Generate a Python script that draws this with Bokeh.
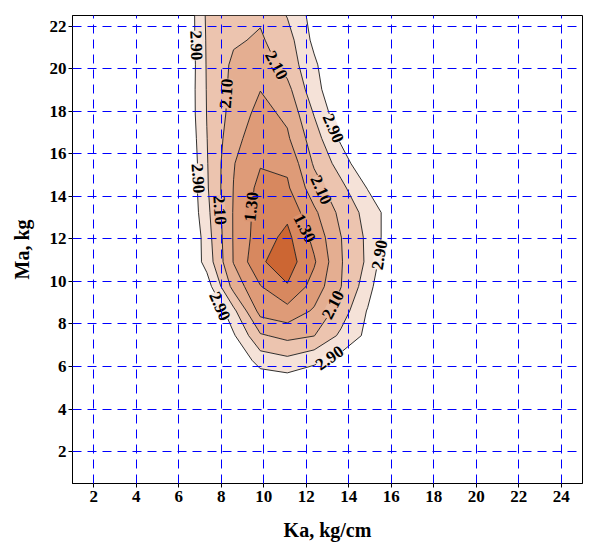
import numpy as np
from bokeh.plotting import figure
from bokeh.models import Range1d, FixedTicker, ColumnDataSource
from bokeh.core.properties import value
from bokeh.embed import file_html
from bokeh.resources import INLINE

# grid nodes of the surface (Ka, kg/cm and Ma, kg)
x_nodes = [6.05, 7.32, 8.58, 9.84, 11.11, 12.37, 13.63, 14.89, 16.16, 17.42]
y_nodes = [3.97, 5.13, 6.29, 7.45, 8.61, 9.76, 10.92, 12.08, 13.24, 14.39,
           15.55, 16.71, 17.87, 19.03, 20.18, 21.34, 22.50]

# surface values, one row per y node (bottom to top)
z_r00 = [4.00, 3.95, 3.85, 3.72, 3.70, 3.75, 3.85, 3.95, 4.00, 4.10]
z_r01 = [3.95, 3.80, 3.55, 3.25, 3.19, 3.30, 3.50, 3.70, 3.85, 4.00]
z_r02 = [3.90, 3.70, 3.30, 2.72, 2.60, 2.80, 3.05, 3.40, 3.70, 3.95]
z_r03 = [3.85, 3.55, 2.95, 2.15, 1.98, 2.09, 2.58, 3.00, 3.60, 3.90]
z_r04 = [3.80, 3.48, 2.60, 1.56, 1.44, 1.75, 2.29, 2.93, 3.50, 3.85]
z_r05 = [3.70, 3.10, 1.96, 1.32, 0.93, 1.46, 2.09, 2.71, 3.64, 3.95]
z_r06 = [3.51, 2.75, 1.68, 0.95, 0.70, 1.25, 2.07, 2.57, 3.44, 3.90]
z_r07 = [3.71, 2.68, 1.67, 1.08, 0.80, 1.42, 2.09, 2.58, 3.22, 3.65]
z_r08 = [3.55, 2.61, 1.67, 1.12, 0.99, 1.62, 2.21, 2.64, 3.16, 3.60]
z_r09 = [3.54, 2.55, 1.69, 1.18, 1.24, 1.92, 2.39, 2.92, 3.50, 3.80]
z_r10 = [3.60, 2.53, 1.72, 1.33, 1.38, 2.15, 2.67, 3.29, 3.70, 3.90]
z_r11 = [3.52, 2.51, 1.83, 1.45, 1.64, 2.31, 2.97, 3.40, 3.75, 3.95]
z_r12 = [3.45, 2.49, 1.94, 1.57, 1.78, 2.52, 3.19, 3.55, 3.85, 4.00]
z_r13 = [3.45, 2.48, 1.98, 1.71, 1.98, 2.76, 3.25, 3.60, 3.90, 4.05]
z_r14 = [3.49, 2.47, 2.02, 1.86, 2.26, 2.82, 3.40, 3.70, 4.00, 4.10]
z_r15 = [3.45, 2.46, 2.15, 2.05, 2.33, 3.00, 3.45, 3.75, 3.95, 4.15]
z_r16 = [3.46, 2.44, 2.30, 2.15, 2.52, 3.06, 3.50, 3.80, 4.00, 4.20]

levels = [0.5, 0.9, 1.3, 1.7, 2.1, 2.5, 2.9]
band_colors = ["#CC6633", "#D7885F", "#DE9B78", "#E4AE91", "#ECC4AF", "#F5E2D8"]

x_ticks = [2, 4, 6, 8, 10, 12, 14, 16, 18, 20, 22, 24]
y_ticks = [2, 4, 6, 8, 10, 12, 14, 16, 18, 20, 22]

# contour labels
lab290_x = [6.83, 6.91, 7.93, 13.10, 15.45, 13.27]
lab290_y = [21.09, 14.84, 8.83, 6.40, 11.25, 17.20]
lab290_a = [-88, -86, -66, 35, 80, -67]
lab210_x = [8.24, 10.59, 7.93, 12.70, 13.26]
lab210_y = [18.83, 20.16, 13.36, 14.30, 8.90]
lab210_a = [86, -62, -86, -66, 63]
lab130_x = [9.42, 11.92]
lab130_y = [13.51, 12.50]
lab130_a = [84, -63]

z = np.array([z_r00, z_r01, z_r02, z_r03, z_r04, z_r05, z_r06, z_r07, z_r08,
              z_r09, z_r10, z_r11, z_r12, z_r13, z_r14, z_r15, z_r16])

serif = "Liberation Serif"

p = figure(width=589, height=552, x_range=Range1d(1, 25), y_range=Range1d(0.5, 22.5),
           output_backend="svg", toolbar_location=None,
           min_border_left=72, min_border_right=7, min_border_top=15, min_border_bottom=69)
p.background_fill_color = "white"
p.border_fill_color = "white"
p.outline_line_color = "black"
p.outline_line_width = 1

p.contour(np.array(x_nodes), np.array(y_nodes), z, levels,
          fill_color=band_colors, line_color="#1a1a1a", line_width=0.9)

# grid on top of the filled contours
p.xgrid.ticker = FixedTicker(ticks=x_ticks)
p.ygrid.ticker = FixedTicker(ticks=y_ticks)
p.grid.grid_line_color = "#0000FF"
p.grid.grid_line_dash = "9 6"
p.grid.grid_line_width = 1
p.grid.level = "overlay"

def add_labels(xs, ys, angs, txt, bg):
    src = ColumnDataSource(dict(x=xs, y=ys, a=angs, t=[txt] * len(xs)))
    r = p.text(x="x", y="y", text="t", angle="a", angle_units="deg", source=src,
               text_font=value(serif), text_font_style="bold", text_font_size="17px",
               text_align="center", text_baseline="middle", text_color="black",
               background_fill_color=bg)
    r.level = "overlay"

add_labels(lab290_x, lab290_y, lab290_a, "2.90", "#F8EAE2")
add_labels(lab210_x, lab210_y, lab210_a, "2.10", "#E8B9A0")
add_labels(lab130_x, lab130_y, lab130_a, "1.30", "#DB9470")

# axes
for ax in (p.xaxis[0], p.yaxis[0]):
    ax.major_label_text_font = serif
    ax.major_label_text_font_style = "bold"
    ax.major_label_text_font_size = "17px"
    ax.major_label_text_color = "black"
    ax.axis_label_text_font = serif
    ax.axis_label_text_font_style = "bold"
    ax.axis_label_text_font_size = "20px"
    ax.axis_label_text_color = "black"
    ax.major_tick_out = 4
    ax.major_tick_in = 0
    ax.minor_tick_line_color = None
    ax.axis_line_color = "black"
    ax.major_tick_line_color = "black"

p.xaxis[0].ticker = FixedTicker(ticks=x_ticks)
p.yaxis[0].ticker = FixedTicker(ticks=y_ticks)
p.xaxis[0].axis_label = "Ka, kg/cm"
p.yaxis[0].axis_label = "Ma, kg"
p.xaxis[0].major_label_standoff = 3
p.xaxis[0].axis_label_standoff = 14
p.yaxis[0].major_label_standoff = 2
p.yaxis[0].axis_label_standoff = 14

open("out.html", "w").write(file_html(p, INLINE))
